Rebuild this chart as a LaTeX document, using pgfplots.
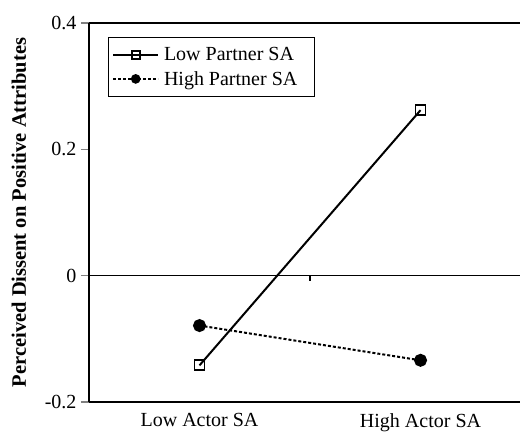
\documentclass[border=0pt]{standalone}
\usepackage{pgfplots}
\pgfplotsset{compat=1.18}
\usepackage{fontspec}
\setmainfont{Liberation Serif}
\begin{document}
\begin{tikzpicture}
\begin{axis}[
  name=ax,
  scale only axis,
  width=431pt, height=379pt,
  xmin=0.5, xmax=2.45,
  ymin=-0.2, ymax=0.4,
  axis x line=bottom, axis y line=left,
  axis line style={-, line width=1.4pt},
  clip=false,
  xtick={1,2},
  xticklabels={Low Actor SA, High Actor SA},
  x tick style={draw=none},
  ytick={-0.2,0,0.2,0.4},
  yticklabels={-0.2,0,0.2,0.4},
  y tick style={line width=1.2pt},
  tick align=outside,
  major tick length=8pt,
  tick label style={font=\fontsize{20}{24}\selectfont},
  yticklabel style={xshift=-1pt},
  xticklabel style={yshift=0pt},
  legend style={at={(rel axis cs:0.044,0.963)}, anchor=north west, draw=black, line width=0.9pt,
    font=\fontsize{20}{24}\selectfont, inner xsep=4pt, inner ysep=8pt, row sep=5pt,
    nodes={inner xsep=5pt, inner ysep=2pt}},
  legend cell align=left,
  legend image code/.code={%
    \draw[mark repeat=2, mark phase=2, #1, line width=1.6pt, mark size=4pt]
      plot coordinates {(0pt,0pt) (22.5pt,0pt) (45pt,0pt)};},
]
\addplot[black, line width=2pt, mark=square, mark size=5pt, mark options={solid, fill=white, line width=1.8pt}]
  coordinates {(1,-0.142) (2,0.262)};
\addlegendentry{Low Partner SA\hspace*{8pt}}
\addplot[black, line width=2pt, densely dashed, mark=*, mark size=5.5pt, mark options={solid, fill=black}]
  coordinates {(1,-0.079) (2,-0.134)};
\addlegendentry{High Partner SA\hspace*{8pt}}
\draw[line width=1.4pt] (axis cs:0.5,0) -- (axis cs:2.45,0);
\draw[line width=1.4pt] (axis cs:0.5,0.4) -- (axis cs:2.45,0.4);
\draw[line width=1.2pt] (axis cs:1.5,0) -- ([yshift=-5pt]axis cs:1.5,0);
\end{axis}
\node[rotate=90, font=\fontsize{20.5}{24}\selectfont\bfseries, inner sep=0pt]
  at ([xshift=-70pt]ax.west) {Perceived Dissent on Positive Attributes};
\pgfresetboundingbox
\path[use as bounding box] ([xshift=-89pt,yshift=-30pt]ax.south west) rectangle ([yshift=23pt]ax.north east);
\end{tikzpicture}
\end{document}
